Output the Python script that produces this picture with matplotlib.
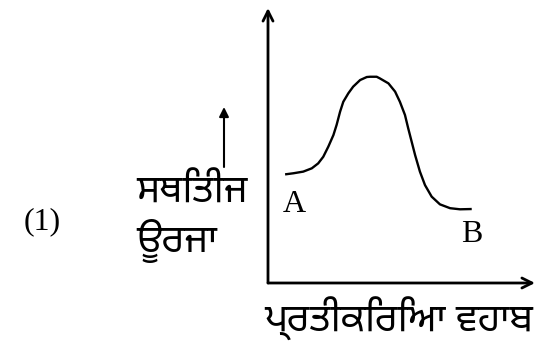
import matplotlib
matplotlib.use("Agg")
import matplotlib.pyplot as plt

# Data (reaction coordinate vs potential energy)
reaction_coord = [0.64, 0.95, 1.32, 1.64, 1.88, 2.07, 2.26, 2.45, 2.57, 2.70,
                  2.82, 3.01, 3.19, 3.45, 3.70, 3.82, 4.07, 4.19, 4.51, 4.76,
                  4.94, 5.13, 5.25, 5.38, 5.51, 5.69, 5.88, 6.13, 6.44, 6.82,
                  7.19, 7.63]
potential_energy = [3.95, 3.99, 4.05, 4.17, 4.35, 4.59, 4.96, 5.38, 5.75, 6.23,
                    6.59, 6.90, 7.14, 7.38, 7.49, 7.50, 7.50, 7.44, 7.26, 6.96,
                    6.59, 6.11, 5.63, 5.14, 4.65, 4.05, 3.56, 3.14, 2.86, 2.72,
                    2.68, 2.69]

label_num = "(1)"
y_label_1 = "ਸਥਿਤੀਜ"
y_label_2 = "ਊਰਜਾ"
x_label = "ਪ੍ਰਤੀਕਿਰਿਆ ਵਹਾਬ"
start_label = "A"
end_label = "B"

W, H = 537, 342
guru = ['Noto Sans Gurmukhi', 'Mukta Mahee', 'FreeSans', 'DejaVu Sans']
serif = ['Liberation Serif', 'DejaVu Serif']

fig = plt.figure(figsize=(W / 100, H / 100), dpi=100)
fig.patch.set_facecolor('white')

def fx(px):
    return px / W

def fy(py):
    return 1 - py / H

ax = fig.add_axes([fx(268), fy(283), (535 - 268) / W, (283 - 8) / H])
ax.set_xlim(0, 10)
ax.set_ylim(0, 10)
ax.axis('off')

ax.plot(reaction_coord, potential_energy, color='black', lw=1.7,
        solid_capstyle='butt', solid_joinstyle='round')

# axes drawn as arrows
ax.annotate('', xy=(0, 1.0), xytext=(0, 0), xycoords='axes fraction',
            arrowprops=dict(arrowstyle='->', lw=2.0, color='black',
                            mutation_scale=18, shrinkA=0, shrinkB=0))
ax.annotate('', xy=(1.0, 0), xytext=(0, 0), xycoords='axes fraction',
            arrowprops=dict(arrowstyle='->', lw=2.0, color='black',
                            mutation_scale=18, shrinkA=0, shrinkB=0))

# small upward arrow above the y label
fig.add_artist(matplotlib.patches.FancyArrowPatch(
    (fx(224), fy(167)), (fx(224), fy(107)), transform=fig.transFigure,
    arrowstyle='-|>', lw=1.5, color='black', mutation_scale=14,
    shrinkA=0, shrinkB=0))

fig.text(fx(42), fy(222), label_num, family=serif, fontsize=23,
         ha='center', va='center')
fig.text(fx(136), fy(193), y_label_1, family=guru, fontsize=28,
         ha='left', va='center')
fig.text(fx(136), fy(241), y_label_2, family=guru, fontsize=28,
         ha='left', va='center')
fig.text(fx(294), fy(204), start_label, family=serif, fontsize=23,
         ha='center', va='center')
fig.text(fx(472), fy(235), end_label, family=serif, fontsize=23,
         ha='center', va='center')
fig.text(fx(399), fy(319), x_label, family=guru, fontsize=28,
         ha='center', va='center')

fig.savefig("out.png", dpi=100, facecolor='white')
